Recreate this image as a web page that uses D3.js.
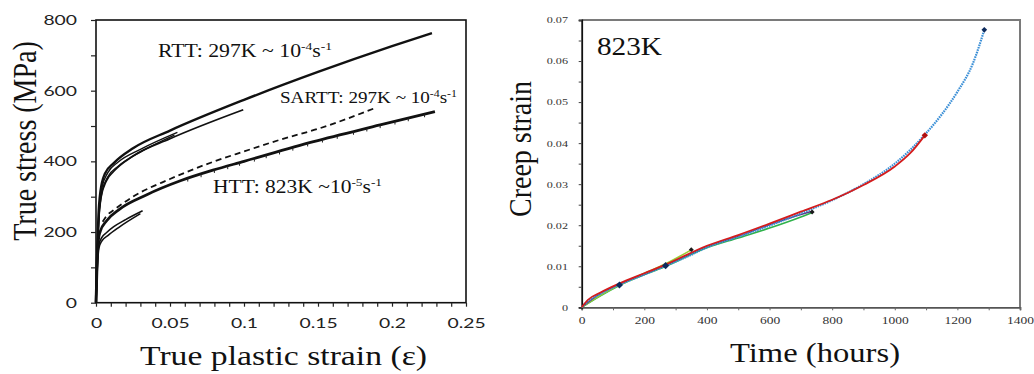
<!DOCTYPE html>
<html><head><meta charset="utf-8">
<script src="https://cdn.jsdelivr.net/npm/d3@7"></script>
<style>
html,body{margin:0;padding:0;background:#fff;}
svg{display:block;}
</style></head>
<body>
<svg id="c" width="1034" height="374"></svg>
<script>
// ---------- LEFT CHART DATA (true plastic strain vs true stress, MPa) ----------
const leftXTicks = [0, 0.05, 0.1, 0.15, 0.2, 0.25];
const leftXTickLabels = ["0", "0.05", "0.1", "0.15", "0.2", "0.25"];
const leftYTicks = [0, 200, 400, 600, 800];
const leftYTickLabels = ["0", "200", "400", "600", "800"];

const rttMainStrain = [0, 0.0008, 0.0016, 0.003, 0.006, 0.012, 0.025, 0.05, 0.1, 0.15, 0.2, 0.227];
const rttMainStress = [0, 140, 240, 315, 365, 395, 437, 487, 574, 653, 726, 763];
const rttBStrain = [0, 0.0008, 0.0018, 0.0035, 0.007, 0.012, 0.025, 0.05, 0.0995];
const rttBStress = [0, 130, 230, 300, 345, 372, 415, 464, 546];
const rttCStrain = [0, 0.001, 0.002, 0.004, 0.008, 0.015, 0.03, 0.055];
const rttCStress = [0, 150, 250, 325, 368, 398, 434, 482];
const rttDStrain = [0, 0.001, 0.002, 0.004, 0.008, 0.015, 0.03, 0.053];
const rttDStress = [0, 140, 240, 312, 356, 386, 426, 474];

const sarttStrain = [0.0045, 0.007, 0.012, 0.025, 0.05, 0.08, 0.1, 0.125, 0.15, 0.188];
const sarttStress = [229, 245, 262, 300, 350, 400, 428, 462, 492, 550];

const httMainStrain = [0, 0.0008, 0.0016, 0.0027, 0.0072, 0.016, 0.034, 0.057, 0.079, 0.1, 0.147, 0.192, 0.229];
const httMainStress = [0, 120, 177, 200, 232, 265, 305, 345, 375, 400, 456, 503, 541];
const httAStrain = [0, 0.001, 0.002, 0.004, 0.007, 0.012, 0.02, 0.0315];
const httAStress = [0, 115, 165, 185, 198, 215, 235, 260];
const httBStrain = [0, 0.001, 0.002, 0.004, 0.008, 0.015, 0.03];
const httBStress = [0, 105, 155, 175, 190, 212, 252];
// serration (stress drop) positions along HTT main curve
const httSerrStrain = [0.062, 0.071, 0.08, 0.089, 0.097, 0.107, 0.115, 0.124, 0.133, 0.143, 0.153, 0.163, 0.174, 0.183, 0.192, 0.202, 0.211, 0.222];

// ---------- RIGHT CHART DATA (time, hours vs creep strain) ----------
const rightXTicks = [0, 200, 400, 600, 800, 1000, 1200, 1400];
const rightXTickLabels = ["0", "200", "400", "600", "800", "1000", "1200", "1400"];
const rightYTicks = [0, 0.01, 0.02, 0.03, 0.04, 0.05, 0.06, 0.07];
const rightYTickLabels = ["0", "0.01", "0.02", "0.03", "0.04", "0.05", "0.06", "0.07"];

const blueTime   = [0, 20, 60, 120, 200, 268, 350, 400, 500, 600, 700, 800, 900, 1000, 1100, 1150, 1200, 1250, 1286];
const blueStrain = [0, 0.0015, 0.0033, 0.0055, 0.0080, 0.0101, 0.0128, 0.0146, 0.0172, 0.0199, 0.0229, 0.0261, 0.0300, 0.0350, 0.0424, 0.0470, 0.0525, 0.0595, 0.0676];
const redTime   = [0, 20, 60, 120, 200, 268, 400, 500, 600, 700, 800, 900, 1000, 1050, 1096];
const redStrain = [0, 0.0018, 0.0036, 0.0058, 0.0083, 0.0104, 0.0150, 0.0176, 0.0204, 0.0233, 0.0262, 0.0298, 0.0343, 0.0376, 0.0419];
const darkTime   = [0, 60, 120, 268, 400, 500, 600, 700, 736];
const darkStrain = [0, 0.0034, 0.0056, 0.0102, 0.0148, 0.0173, 0.0201, 0.0226, 0.0234];
const greenTime   = [0, 60, 120, 268, 400, 500, 600, 700, 736];
const greenStrain = [0, 0.0028, 0.0053, 0.0100, 0.0145, 0.0169, 0.0193, 0.0220, 0.0231];
const ygTime   = [0, 60, 120, 200, 268, 350];
const ygStrain = [0, 0.0029, 0.0054, 0.0083, 0.0106, 0.0140];
const markerTime   = [120.6, 268, 350, 736, 1096, 1286];
const markerStrain = [0.00544, 0.01015, 0.01405, 0.0232, 0.0419, 0.0676];

// ---------- DRAWING ----------
const svg = d3.select("#c");
const SERIF = "'Liberation Serif','Times New Roman',serif";
const SANS = "Lato,'Open Sans',sans-serif";
function stretch(sel, k) {
  sel.each(function () {
    const w = this.getComputedTextLength();
    this.setAttribute("textLength", w * k);
    this.setAttribute("lengthAdjust", "spacingAndGlyphs");
  });
}
const zip = (a, b) => a.map((v, i) => [v, b[i]]);

// ===== LEFT =====
const lx = d3.scaleLinear().domain([0, 0.25]).range([96, 466]);
const ly = d3.scaleLinear().domain([0, 800]).range([302.7, 20]);
const L = svg.append("g");

L.append("rect").attr("x", lx(0)).attr("y", ly(800)).attr("width", lx(0.25) - lx(0)).attr("height", ly(0) - ly(800))
  .attr("fill", "none").attr("stroke", "#111").attr("stroke-width", 1.6);

const lxAxisMinor = d3.axisBottom(lx).tickValues(d3.range(0, 0.2501, 0.01)).tickSize(4).tickFormat("");
L.append("g").attr("transform", `translate(0,${ly(0)})`).call(lxAxisMinor)
  .call(g => { g.select(".domain").remove(); g.selectAll("line").attr("stroke", "#222").attr("stroke-width", 1.2); });
const lyAxisMinor = d3.axisLeft(ly).tickValues(d3.range(0, 801, 100)).tickSize(5).tickFormat("");
L.append("g").attr("transform", `translate(${lx(0)},0)`).call(lyAxisMinor)
  .call(g => { g.select(".domain").remove(); g.selectAll("line").attr("stroke", "#222").attr("stroke-width", 1.2); });

const lxAxis = d3.axisBottom(lx).tickValues(leftXTicks).tickSize(4).tickPadding(11)
  .tickFormat((d, i) => leftXTickLabels[i]);
const gx = L.append("g").attr("transform", `translate(0,${ly(0)})`).call(lxAxis);
gx.select(".domain").remove(); gx.selectAll("line").remove();
gx.selectAll("text").attr("font-family", SANS).attr("font-size", 14).attr("fill", "#222").call(stretch, 1.38);

const lyAxis = d3.axisLeft(ly).tickValues(leftYTicks).tickSize(5).tickPadding(14)
  .tickFormat((d, i) => leftYTickLabels[i]);
const gy = L.append("g").attr("transform", `translate(${lx(0)},0)`).call(lyAxis);
gy.select(".domain").remove(); gy.selectAll("line").remove();
gy.selectAll("text").attr("font-family", SANS).attr("font-size", 14).attr("fill", "#222").call(stretch, 1.38);

const lline = d3.line().x(d => lx(d[0])).y(d => ly(d[1])).curve(d3.curveMonotoneX);
const leftSeries = [
  { s: rttBStrain, v: rttBStress, w: 1.8 },
  { s: rttDStrain, v: rttDStress, w: 1.4 },
  { s: rttCStrain, v: rttCStress, w: 1.4 },
  { s: rttMainStrain, v: rttMainStress, w: 2.4 },
  { s: httBStrain, v: httBStress, w: 1.6 },
  { s: httAStrain, v: httAStress, w: 1.6 },
  { s: httMainStrain, v: httMainStress, w: 2.8 }
];
leftSeries.forEach(o => {
  L.append("path").datum(zip(o.s, o.v)).attr("d", lline)
    .attr("fill", "none").attr("stroke", "#111").attr("stroke-width", o.w).attr("stroke-linejoin", "round");
});
L.append("path").datum(zip(sarttStrain, sarttStress)).attr("d", lline)
  .attr("fill", "none").attr("stroke", "#111").attr("stroke-width", 1.8).attr("stroke-dasharray", "6,4");

const httInterp = d3.scaleLinear().domain(httMainStrain).range(httMainStress);
L.selectAll("line.serr").data(httSerrStrain).join("line").attr("class", "serr")
  .attr("x1", d => lx(d)).attr("x2", d => lx(d))
  .attr("y1", d => ly(httInterp(d))).attr("y2", d => ly(httInterp(d) - 9))
  .attr("stroke", "#222").attr("stroke-width", 1);

function annot(g, x, y, parts, size, width) {
  const t = g.append("text").attr("x", x).attr("y", y).attr("font-family", SERIF).attr("font-size", size).attr("fill", "#111");
  parts.forEach(p => {
    const ts = t.append("tspan").text(p[0]);
    if (p[1] === "sup") ts.attr("font-size", size * 0.62).attr("dy", -size * 0.38);
    else if (p[1] === "base") ts.attr("dy", size * 0.38);
  });
  t.attr("textLength", width).attr("lengthAdjust", "spacingAndGlyphs");
  return t;
}
annot(L, 158, 57, [["RTT: 297K ~ 10"], ["-4", "sup"], ["s", "base"], ["-1", "sup"]], 18, 174);
annot(L, 280, 103, [["SARTT: 297K ~ 10"], ["-4", "sup"], ["s", "base"], ["-1", "sup"]], 17, 177);
annot(L, 213, 193, [["HTT: 823K ~10"], ["-5", "sup"], ["s", "base"], ["-1", "sup"]], 18, 169);

L.append("text").attr("x", 283.5).attr("y", 365).attr("text-anchor", "middle")
  .attr("font-family", SERIF).attr("font-size", 27).attr("fill", "#111")
  .attr("textLength", 287).attr("lengthAdjust", "spacingAndGlyphs")
  .text("True plastic strain (ε)");
L.append("text").attr("transform", "translate(36,141) rotate(-90) scale(1,1.2)")
  .attr("text-anchor", "middle").attr("font-family", SERIF).attr("font-size", 28).attr("fill", "#111")
  .text("True stress (MPa)");

// ===== RIGHT =====
const rx = d3.scaleLinear().domain([0, 1400]).range([581.7, 1020]);
const ry = d3.scaleLinear().domain([0, 0.07]).range([307.3, 20]);
const R = svg.append("g");

R.append("path").attr("d", `M${rx(0)},${ry(0.07)}H${rx(1400)}V${ry(0)}`)
  .attr("fill", "none").attr("stroke", "#7a7a7a").attr("stroke-width", 2);

const rxMinor = d3.axisBottom(rx).tickValues(d3.range(0, 1401, 100)).tickSize(3).tickFormat("");
R.append("g").attr("transform", `translate(0,${ry(0)})`).call(rxMinor)
  .call(g => { g.select(".domain").attr("stroke", "#555").attr("stroke-width", 1.8); g.selectAll("line").attr("stroke", "#666"); });
const ryMinor = d3.axisLeft(ry).tickValues(d3.range(0, 0.07001, 0.005)).tickSize(3).tickFormat("");
R.append("g").attr("transform", `translate(${rx(0)},0)`).call(ryMinor)
  .call(g => { g.select(".domain").attr("stroke", "#111").attr("stroke-width", 1.8); g.selectAll("line").attr("stroke", "#444"); });

const rxAxis = d3.axisBottom(rx).tickValues(rightXTicks).tickSize(3).tickPadding(6.5)
  .tickFormat((d, i) => rightXTickLabels[i]);
const grx = R.append("g").attr("transform", `translate(0,${ry(0)})`).call(rxAxis);
grx.select(".domain").remove(); grx.selectAll("line").remove();
grx.selectAll("text").attr("font-family", SERIF).attr("font-size", 10).attr("fill", "#333").call(stretch, 1.35);

const ryAxis = d3.axisLeft(ry).tickValues(rightYTicks).tickSize(3).tickPadding(10.7)
  .tickFormat((d, i) => rightYTickLabels[i]);
const gry = R.append("g").attr("transform", `translate(${rx(0)},0)`).call(ryAxis);
gry.select(".domain").remove(); gry.selectAll("line").remove();
gry.selectAll("text").attr("font-family", SERIF).attr("font-size", 9).attr("fill", "#333").call(stretch, 1.35);

const rline = d3.line().x(d => rx(d[0])).y(d => ry(d[1])).curve(d3.curveMonotoneX);
const rightSeries = [
  { t: greenTime, s: greenStrain, c: "#2fb24a", w: 1.6, dash: null },
  { t: ygTime, s: ygStrain, c: "#9acd32", w: 1.6, dash: null },
  { t: darkTime, s: darkStrain, c: "#5a3a8a", w: 1.4, dash: null },
  { t: blueTime, s: blueStrain, c: "#3b8fd6", w: 2.2, dash: "1.6,0.9" },
  { t: redTime, s: redStrain, c: "#d41c1c", w: 1.8, dash: null }
];
rightSeries.forEach(o => {
  const p = R.append("path").datum(zip(o.t, o.s)).attr("d", rline)
    .attr("fill", "none").attr("stroke", o.c).attr("stroke-width", o.w);
  if (o.dash) p.attr("stroke-dasharray", o.dash);
});
const markerFill = ["#0d2a5c", "#0d2a5c", "#1a1a1a", "#1a1a1a", "#b01010", "#0d2a5c"];
const markerSize = [5, 5, 3.5, 3.5, 4.5, 4];
R.selectAll("rect.mk").data(markerTime).join("rect").attr("class", "mk")
  .attr("x", (d, i) => rx(d) - markerSize[i] / 2).attr("y", (d, i) => ry(markerStrain[i]) - markerSize[i] / 2)
  .attr("width", (d, i) => markerSize[i]).attr("height", (d, i) => markerSize[i])
  .attr("transform", (d, i) => `rotate(45,${rx(d)},${ry(markerStrain[i])})`)
  .attr("fill", (d, i) => markerFill[i]);

R.append("text").attr("x", 597).attr("y", 55).attr("font-family", SERIF).attr("font-size", 25).attr("fill", "#111")
  .attr("textLength", 65).attr("lengthAdjust", "spacingAndGlyphs").text("823K");
R.append("text").attr("x", 815).attr("y", 362).attr("text-anchor", "middle")
  .attr("font-family", SERIF).attr("font-size", 27).attr("fill", "#111")
  .attr("textLength", 170).attr("lengthAdjust", "spacingAndGlyphs").text("Time (hours)");
R.append("text").attr("transform", "translate(531,149) rotate(-90) scale(1,1.1)")
  .attr("text-anchor", "middle").attr("font-family", SERIF).attr("font-size", 28).attr("fill", "#111")
  .text("Creep strain");
</script>
</body></html>
